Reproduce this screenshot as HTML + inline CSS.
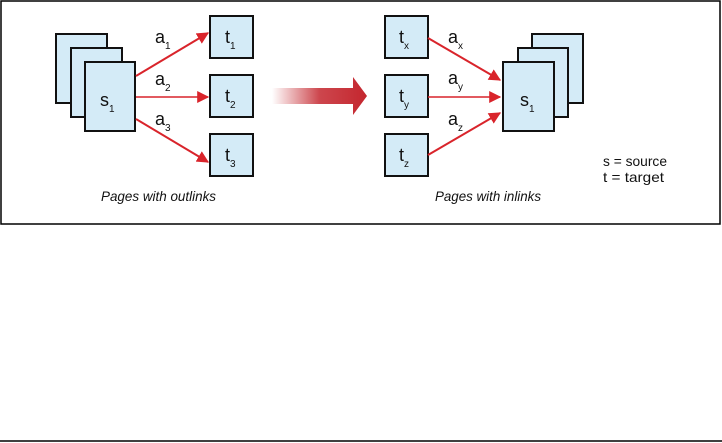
<!DOCTYPE html>
<html><head><meta charset="utf-8"><style>
html,body{margin:0;padding:0;background:#fff;width:722px;height:443px;overflow:hidden}
svg{display:block}
text{font-family:"Liberation Sans",sans-serif;fill:#111}
</style></head><body>
<svg width="722" height="443" viewBox="0 0 722 443" xmlns="http://www.w3.org/2000/svg">
<defs>
<linearGradient id="g" x1="272" y1="0" x2="367" y2="0" gradientUnits="userSpaceOnUse">
<stop offset="0" stop-color="#c4262e" stop-opacity="0"/>
<stop offset="0.5" stop-color="#c4262e" stop-opacity="0.85"/>
<stop offset="1" stop-color="#c4262e"/>
</linearGradient>
<marker id="ah" viewBox="0 0 10 10" refX="9" refY="5" markerWidth="12" markerHeight="12" markerUnits="userSpaceOnUse" orient="auto">
<path d="M0,0 L10,5 L0,10 z" fill="#d9242b"/>
</marker>
</defs>
<rect x="1" y="1" width="719" height="223" fill="none" stroke="#000" stroke-width="1.5"/>
<line x1="0" y1="441" x2="722" y2="441" stroke="#000" stroke-width="1.5"/>
<g fill="#d4ebf7" stroke="#111" stroke-width="2">
<rect x="56" y="34" width="51" height="69"/>
<rect x="71" y="48" width="51" height="69"/>
<rect x="85" y="62" width="50" height="69"/>
<rect x="210" y="16" width="43" height="42"/>
<rect x="210" y="75" width="43" height="42"/>
<rect x="210" y="134" width="43" height="42"/>
<rect x="385" y="16" width="43" height="42"/>
<rect x="385" y="75" width="43" height="42"/>
<rect x="385" y="134" width="43" height="42"/>
<rect x="532" y="34" width="51" height="69"/>
<rect x="518" y="48" width="50" height="69"/>
<rect x="503" y="62" width="51" height="69"/>
</g>
<g stroke="#d9242b" stroke-width="2" fill="none" marker-end="url(#ah)">
<path d="M136,76 L208,33"/>
<path d="M136,97 L208,97" stroke-width="1.5"/>
<path d="M136,119 L208,162"/>
<path d="M428,38 L500,80"/>
<path d="M428,97 L500,97" stroke-width="1.5"/>
<path d="M428,155 L500,113"/>
</g>
<path d="M272,88 L353,88 L353,77 L367,96 L353,115 L353,104 L272,104 z" fill="url(#g)"/>
<g font-size="18">
<text x="100" y="106">s<tspan font-size="10" dy="6">1</tspan></text>
<text x="225" y="43">t<tspan font-size="10" dy="6">1</tspan></text>
<text x="225" y="102">t<tspan font-size="10" dy="6">2</tspan></text>
<text x="225" y="161">t<tspan font-size="10" dy="6">3</tspan></text>
<text x="155" y="43">a<tspan font-size="10" dy="6">1</tspan></text>
<text x="155" y="85">a<tspan font-size="10" dy="6">2</tspan></text>
<text x="155" y="125">a<tspan font-size="10" dy="6">3</tspan></text>
<text x="399" y="43">t<tspan font-size="10" dy="6">x</tspan></text>
<text x="399" y="102">t<tspan font-size="10" dy="6">y</tspan></text>
<text x="399" y="161">t<tspan font-size="10" dy="6">z</tspan></text>
<text x="448" y="43">a<tspan font-size="10" dy="6">x</tspan></text>
<text x="448" y="84">a<tspan font-size="10" dy="6">y</tspan></text>
<text x="448" y="125">a<tspan font-size="10" dy="6">z</tspan></text>
<text x="520" y="106">s<tspan font-size="10" dy="6">1</tspan></text>
</g>
<g font-size="14">
<text x="603" y="166" textLength="64" lengthAdjust="spacingAndGlyphs">s = source</text>
<text x="603" y="182" textLength="61" lengthAdjust="spacingAndGlyphs">t = target</text>
</g>
<g font-size="14" font-style="italic">
<text x="101" y="201" textLength="115" lengthAdjust="spacingAndGlyphs">Pages with outlinks</text>
<text x="435" y="201" textLength="106" lengthAdjust="spacingAndGlyphs">Pages with inlinks</text>
</g>
</svg>
</body></html>
